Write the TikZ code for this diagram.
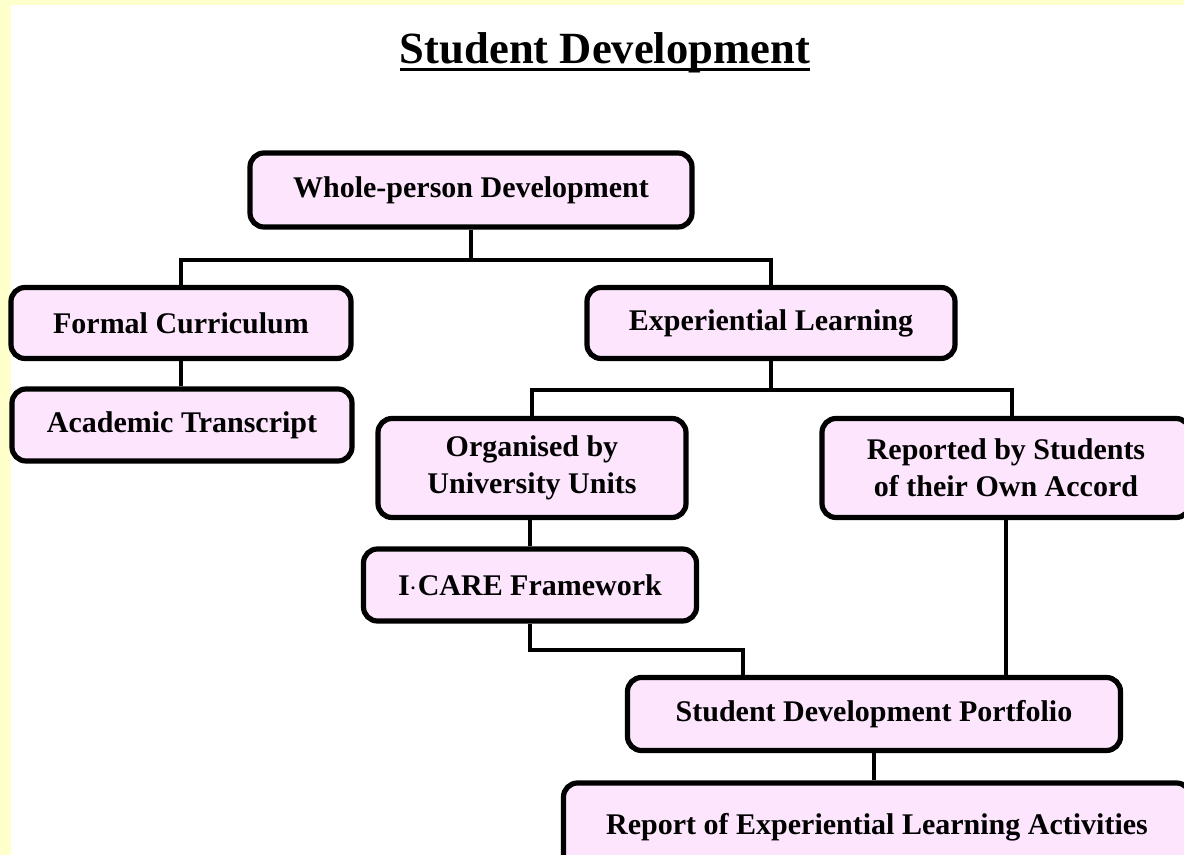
\documentclass[tikz,border=0pt]{standalone}
\usepackage{fontspec}
\setmainfont{Liberation Serif}
\usetikzlibrary{calc}
\definecolor{boxpink}{RGB}{253,230,253}
\definecolor{edgeyellow}{RGB}{255,255,204}
\newcommand{\stage}[1]{{\bfseries #1}}

\begin{document}
\begin{tikzpicture}[
 x=0.5pt,
 y=-0.5pt,
 link/.style={
  line width=2pt,
 },
 stagebox/.style={
  inner sep=0pt,
  draw=black,
  fill=boxpink,
  line width=2.6pt,
  rounded corners=7pt,
  rectangle,
  minimum height=36pt,
  align=center,
  font=\fontsize{15}{18.5}\selectfont,
 }
]

\fill[edgeyellow] (0,0) rectangle (1184,855);
\fill[white] (11,5) rectangle (1184,855);
\useasboundingbox (0,0) rectangle (1184,855);
\clip (0,0) rectangle (1184,855);

\node at (605,64) [anchor=base,inner sep=0pt] (title) {\fontsize{22.3}{26}\selectfont\bfseries Student Development};
\draw[line width=1.5pt] ($(title.base west)+(0,6)$) -- ($(title.base east)+(0,6)$);

\node at (471,190) [stagebox,minimum width=221pt,minimum height=37pt] (whole) {\stage{Whole-person Development}};
\node at (181,323) [stagebox,minimum width=170pt,minimum height=35.5pt] (formal) {\stage{Formal Curriculum}};
\node at (182,425) [stagebox,minimum width=170pt] (academic) {\stage{Academic Transcript}};
\node at (771,323) [stagebox,minimum width=184pt,minimum height=35.5pt] (experiential) {\stage{Experiential Learning}};

\coordinate (j1) at (471,260);
\draw[link] (whole.south) -- (j1);
\draw[link] (formal.north) |- (j1) -| (experiential.north);
\draw[link] (formal.south) -- (formal.south |- academic.north);

\node at (532,468) [stagebox,minimum width=154pt,minimum height=49.5pt] (organised) {\stage{Organised by}\\\stage{University Units}};
\node at (1006,468) [stagebox,minimum width=184pt,minimum height=49.5pt] (reported) {\stage{Reported by Students}\\\stage{of their Own Accord}};
\node at (530,585) [stagebox,minimum width=166.5pt] (icare) {\stage{I$\cdot$CARE Framework}};

\coordinate (j2) at (771,390);
\coordinate (j3) at (1012,390);
\draw[link] (experiential.south) -- (j2);
\draw[link] (organised.north) |- (j2) -- (j3) -- (j3 |- reported.north);
\draw[link] (icare.north) -- (icare.north |- organised.south);

\node at (874,714) [stagebox,minimum width=246.5pt,minimum height=36.5pt] (portfolio) {\stage{Student Development Portfolio}};
\node at (877,827) [stagebox,minimum width=313.5pt,minimum height=44pt] (report) {\stage{Report of Experiential Learning Activities}};

\coordinate (j4) at (743,650);
\draw[link] (icare.south) |- (j4) -- (j4 |- portfolio.north);
\draw[link] (reported.south) -- (reported.south |- portfolio.north);
\draw[link] (portfolio.south) -- (portfolio.south |- report.north);

\end{tikzpicture}
\end{document}
